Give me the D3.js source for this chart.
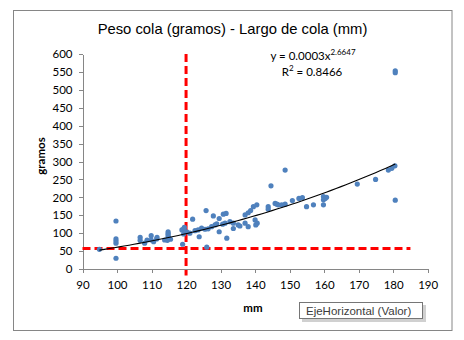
<!DOCTYPE html>
<html><head><meta charset="utf-8">
<script src="https://cdn.jsdelivr.net/npm/d3@7/dist/d3.min.js"></script>
<style>
html,body{margin:0;padding:0;background:#fff;}
svg text{font-family:Lato,"Open Sans",sans-serif;}
</style></head>
<body>
<svg id="c" width="464" height="340"></svg>
<script>
const largo = [94.9,99.7,99.7,99.7,99.7,99.7,106.7,106.7,108.0,108.7,109.9,109.9,110.6,111.6,111.5,113.8,114.8,114.8,114.8,114.8,115.0,115.5,114.6,118.8,119.0,119.2,119.5,120.2,119.3,121.9,121.1,122.6,123.5,123.8,124.5,125.5,125.8,126.0,126.4,127.4,127.9,128.4,128.9,129.6,129.6,130.6,130.8,131.3,131.6,131.8,132.7,133.7,133.7,135.6,135.1,137.1,137.1,138.0,138.0,138.7,139.5,140.5,140.0,140.6,140.2,143.8,143.8,144.6,145.8,146.3,146.7,147.7,148.7,148.7,150.8,152.7,153.7,154.9,156.9,159.8,160.3,160.7,159.8,159.8,169.6,174.9,178.6,179.6,180.5,180.6,180.6,180.6];
const peso  = [55,134,84,78,72,30,88,80,72,81,93,81,76,88,84,81,104,99,95,90,86,83,80,109,69,111,116,104,98,139,100,107,109,90,114,111,163,61,112,118,148,123,126,141,104,125,153,128,155,86,132,128,113,120,123,151,128,157,118,163,174,179,137,128,123,174,167,232,183,181,179,179,181,276,191,197,199,174,179,202,197,200,193,179,237,250,276,281,288,192,553,548];
const xTicks = [90,100,110,120,130,140,150,160,170,180,190];
const yTicks = [0,50,100,150,200,250,300,350,400,450,500,550,600];
const trendA = 0.000284, trendB = 2.6647;
const refX = 120, refY = 57.5, refXEnd = 185;
const title = "Peso cola (gramos) - Largo de cola (mm)";
const eqText = "y = 0.0003x", eqExp = "2.6647", r2Text = " = 0.8466";

const svg = d3.select("#c");
const gray = "#868686";
svg.append("rect").attr("x",13.5).attr("y",10.5).attr("width",438.5).attr("height",320)
  .attr("fill","#fff").attr("stroke",gray);

const x = d3.scaleLinear().domain([90,190]).range([82.5,427.7]);
const y = d3.scaleLinear().domain([0,600]).range([269,54]);

svg.append("text").attr("x",232.5).attr("y",34).attr("text-anchor","middle")
  .style("font-family","'Liberation Sans',Arial,sans-serif").style("font-size","14.8px").attr("fill","#000").text(title);

const ya = svg.append("g").attr("transform",`translate(${x(90)},0)`)
  .call(d3.axisLeft(y).tickValues(yTicks).tickSize(4).tickSizeOuter(0).tickPadding(6));
const xa = svg.append("g").attr("transform",`translate(0,${y(0)})`)
  .call(d3.axisBottom(x).tickValues(xTicks).tickSize(4).tickSizeOuter(0).tickPadding(6));
[ya,xa].forEach(g=>{
  g.selectAll("path,line").attr("stroke",gray).attr("shape-rendering","crispEdges");
  g.selectAll("text").style("font-size","11.5px").attr("fill","#000");
});
xa.selectAll("text").attr("dy","0.9em");

svg.append("text").attr("x",253).attr("y",312).attr("text-anchor","middle")
  .style("font-size","11.5px").style("font-weight","bold").text("mm");
svg.append("text").attr("transform","translate(45,156) rotate(-90)").attr("text-anchor","middle")
  .style("font-size","11.5px").style("font-weight","bold").text("gramos");

// red reference lines
svg.append("line").attr("x1",x(90)).attr("x2",x(refXEnd)).attr("y1",y(refY)).attr("y2",y(refY))
  .attr("stroke","#ff0000").attr("stroke-width",3).attr("stroke-dasharray","8,4");
svg.append("line").attr("x1",x(refX)).attr("x2",x(refX)).attr("y1",y(600)).attr("y2",y(-18))
  .attr("stroke","#ff0000").attr("stroke-width",3).attr("stroke-dasharray","8,4");

// points
svg.append("g").selectAll("circle").data(largo.map((d,i)=>[d,peso[i]])).join("circle")
  .attr("cx",d=>x(d[0])).attr("cy",d=>y(d[1])).attr("r",2.6).attr("fill","#4F81BD");

// trendline
const xmin = d3.min(largo), xmax = d3.max(largo);
const tpts = d3.range(0,61).map(i=>{const xv = xmin+(xmax-xmin)*i/60; return [xv, trendA*Math.pow(xv,trendB)];});
svg.append("path").attr("d",d3.line().x(d=>x(d[0])).y(d=>y(d[1]))(tpts))
  .attr("fill","none").attr("stroke","#000").attr("stroke-width",1.1);

// equation
const eq = svg.append("text").attr("x",313).attr("y",60).attr("text-anchor","middle").style("font-size","11.5px");
eq.append("tspan").text(eqText);
eq.append("tspan").attr("dy",-5).style("font-size","8px").text(eqExp);
const r2 = svg.append("text").attr("x",312).attr("y",76).attr("text-anchor","middle").style("font-size","11.5px");
r2.append("tspan").text("R");
r2.append("tspan").attr("dy",-5).style("font-size","8px").text("2");
r2.append("tspan").attr("dy",5).text(r2Text);

// tooltip
svg.append("rect").attr("x",302).attr("y",305).attr("width",124).attr("height",17).attr("fill","#b0b0b0").attr("opacity",0.6);
svg.append("rect").attr("x",299.5).attr("y",302.5).attr("width",123).attr("height",16).attr("fill","#fff").attr("stroke","#767676");
svg.append("text").attr("x",306).attr("y",315).style("font-family","'Liberation Sans',Arial,sans-serif")
  .style("font-size","11.5px").attr("fill","#3b3b3b").text("EjeHorizontal (Valor)");
</script>
</body></html>
